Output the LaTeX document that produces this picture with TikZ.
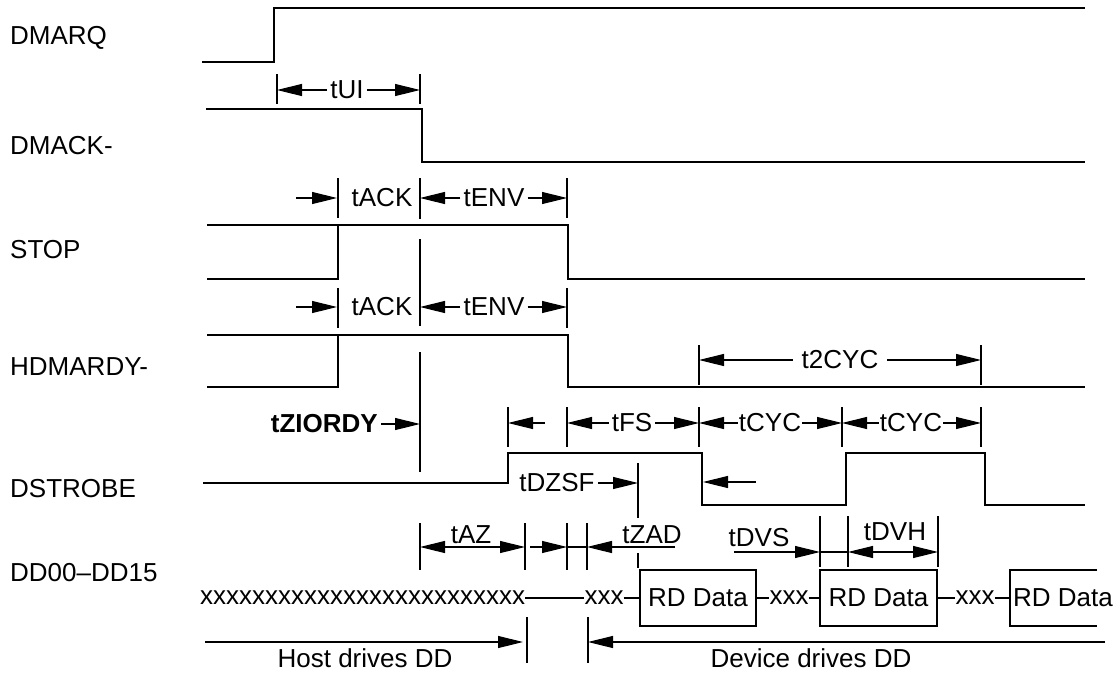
\documentclass[tikz,border=0pt]{standalone}
\usepackage{fontspec}
\setmainfont{Liberation Sans}
\usetikzlibrary{arrows.meta}
\begin{document}
\begin{tikzpicture}[x=1pt,y=-1pt,
  sig/.style={line width=1.4pt},
  tk/.style={line width=1.1pt},
  dimarr/.style={line width=1.1pt,-{Triangle[length=25pt,width=12pt]}},
  dimboth/.style={line width=1.1pt,{Triangle[length=25pt,width=12pt]}-{Triangle[length=25pt,width=12pt]}},
  lbl/.style={font=\fontsize{26}{30}\selectfont, inner sep=0pt},
  dl/.style={font=\fontsize{26}{30}\selectfont, inner sep=3pt},
  databox/.style={draw, line width=1.2pt, minimum height=56pt, font=\fontsize{26}{30}\selectfont, inner sep=0pt},
  ]
\useasboundingbox (0,0) rectangle (1120,673);

% signal names
\node[lbl,anchor=west] (nDMARQ) at (10,38) {DMARQ};
\node[lbl,anchor=west] (nDMACK) at (10,146) {DMACK-};
\node[lbl,anchor=west] (nSTOP) at (10,250) {STOP};
\node[lbl,anchor=west] (nHDMARDY) at (10,367) {HDMARDY-};
\node[lbl,anchor=west] (nDSTROBE) at (10,489) {DSTROBE};
\node[lbl,anchor=west] (nDD) at (10,573) {DD00–DD15};

% waveforms
\draw[sig] (202,62) -- (274,62) -- (274,8) -- (1085,8);
\draw[sig] (206,109) -- (422,109) -- (422,162) -- (1085,162);
\draw[sig] (207,225) -- (568,225) -- (568,279) -- (1085,279);
\draw[sig] (207,279) -- (338,279) -- (338,225);
\draw[sig] (207,335) -- (568,335) -- (568,387) -- (1085,387);
\draw[sig] (207,387) -- (338,387) -- (338,335);
\draw[sig] (203,483) -- (508,483) -- (508,453) -- (702,453) -- (702,505) -- (846,505) -- (846,453) -- (985,453) -- (985,505) -- (1085,505);

% tUI
\draw[tk] (277,74) -- (277,104) (420,74) -- (420,104);
\node[dl] (tUI) at (347,90) {tUI};
\draw[dimarr] (tUI.west) -- (277,90);
\draw[dimarr] (tUI.east) -- (420,90);

% tACK / tENV (STOP)
\draw[tk] (338,178) -- (338,218) (567,178) -- (567,218) (420,178) -- (420,219);
\draw[dimarr] (296,198) -- (337,198);
\node[dl] (tACKa) at (382,198) {tACK};
\node[dl] (tENVa) at (494,198) {tENV};
\draw[dimarr] (tENVa.west) -- (420,198);
\draw[dimarr] (tENVa.east) -- (567,198);

% tACK / tENV (HDMARDY)
\draw[tk] (420,239) -- (420,326);
\draw[tk] (338,288) -- (338,328) (567,288) -- (567,328);
\draw[dimarr] (296,307) -- (337,307);
\node[dl] (tACKb) at (382,307) {tACK};
\node[dl] (tENVb) at (494,307) {tENV};
\draw[dimarr] (tENVb.west) -- (420,307);
\draw[dimarr] (tENVb.east) -- (567,307);
\draw[tk] (420,352) -- (420,472);

% t2CYC
\draw[tk] (699,345) -- (699,385) (981,345) -- (981,385);
\node[dl,inner sep=9pt] (t2CYC) at (840,360) {t2CYC};
\draw[dimarr] (t2CYC.west) -- (699,360);
\draw[dimarr] (t2CYC.east) -- (981,360);

% DSTROBE dimensions
\node[dl,font=\fontsize{26}{30}\selectfont\bfseries,anchor=east] (tZIORDY) at (381,424) {tZIORDY};
\draw[dimarr] (tZIORDY.east) -- (420,424);
\draw[tk] (508,407) -- (508,447) (567,407) -- (567,447) (699,407) -- (699,447) (842,407) -- (842,447) (981,407) -- (981,447);
\draw[dimarr] (545,423) -- (508,423);
\node[dl] (tFS) at (632,423) {tFS};
\draw[dimarr] (tFS.west) -- (567,423);
\draw[dimarr] (tFS.east) -- (699,423);
\node[dl,inner sep=1pt] (tCYCa) at (770,423) {tCYC};
\draw[dimarr] (tCYCa.west) -- (699,423);
\draw[dimarr] (tCYCa.east) -- (842,423);
\node[dl,inner sep=1pt] (tCYCb) at (911,423) {tCYC};
\draw[dimarr] (tCYCb.west) -- (842,423);
\draw[dimarr] (tCYCb.east) -- (981,423);

\node[dl] (tDZSF) at (557,483) {tDZSF};
\draw[dimarr] (tDZSF.east) -- (638,483);
\draw[tk] (638,463) -- (638,518);
\draw[tk] (638,553) -- (638,568);
\draw[dimarr] (756,482) -- (703,482);

% DD dimensions
\draw[tk] (420,523) -- (420,570) (525,523) -- (525,570) (567,523) -- (567,570) (587,523) -- (587,570);
\draw[dimboth] (420,547) -- (525,547);
\node[lbl] (tAZ) at (471,535) {tAZ};
\draw[dimarr] (530,547) -- (567,547);
\draw[tk] (567,547) -- (587,547);
\draw[dimarr] (675,547) -- (587,547);
\node[lbl] (tZAD) at (652,535) {tZAD};
\node[lbl] (tDVS) at (759,538) {tDVS};
\draw[dimarr] (734,552) -- (820,552);
\draw[tk] (820,552) -- (848,552);
\draw[tk] (820,516) -- (820,567) (848,516) -- (848,567) (938,516) -- (938,567);
\draw[dimboth] (848,552) -- (938,552);
\node[lbl] (tDVH) at (895,532) {tDVH};

% data bus
\node[lbl] (hx) at (362.5,598) {xxxxxxxxxxxxxxxxxxxxxxxxx};
\node[lbl] (xa) at (604,598) {xxx};
\node[databox,minimum width=116pt] (ba) at (698,598) {RD Data};
\node[lbl] (xb) at (789,598) {xxx};
\node[databox,minimum width=117pt] (bb) at (878.5,598) {RD Data};
\node[lbl] (xc) at (975,598) {xxx};
\coordinate (bcw) at (1010,598);
\draw[line width=1.2pt] (1097,570) -- (1010,570) -- (1010,626) -- (1097,626);
\node[lbl] (bc) at (1063,598) {RD Data};
\draw[tk] (hx.east) -- (xa.west);
\draw[tk] (xa.east) -- (ba.west);
\draw[tk] (ba.east) -- (xb.west);
\draw[tk] (xb.east) -- (bb.west);
\draw[tk] (bb.east) -- (xc.west);
\draw[tk] (xc.east) -- (bcw);

% drivers
\draw[tk] (527,617) -- (527,663) (588,617) -- (588,663);
\draw[dimarr] (205,642) -- (523,642);
\draw[dimarr] (1105,642) -- (588,642);
\node[lbl] (host) at (365,658) {Host drives DD};
\node[lbl] (dev) at (811,658) {Device drives DD};
\end{tikzpicture}
\end{document}
